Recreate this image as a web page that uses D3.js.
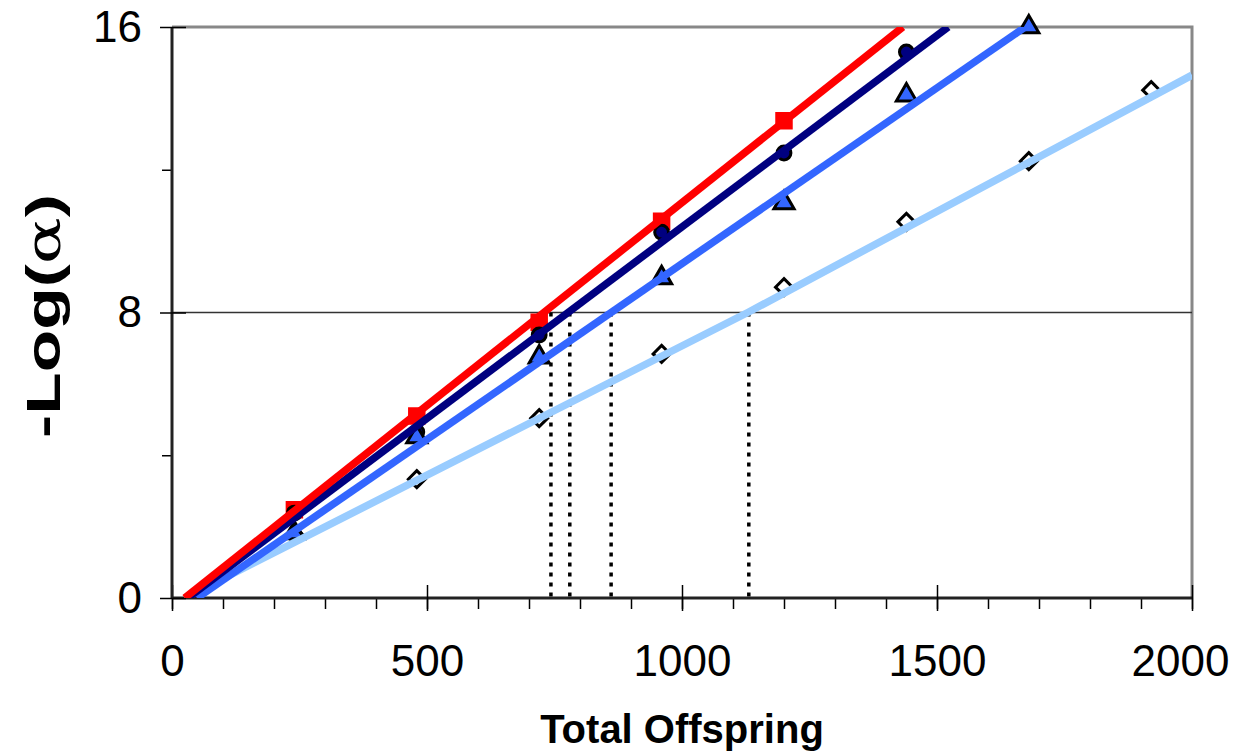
<!DOCTYPE html>
<html>
<head>
<meta charset="utf-8">
<script src="https://cdn.jsdelivr.net/npm/d3@7"></script>
<style>
  body { margin: 0; background: #fff; }
  text { font-family: "Liberation Sans", Arial, sans-serif; }
</style>
</head>
<body>
<svg id="chart"></svg>
<script>
var width = 1243,
    height = 752,
    margin = {top: 27, right: 51, bottom: 154, left: 172};

// observed points (Total Offspring, -Log(alpha))
var offspring = [240, 480, 720, 960, 1200, 1440, 1680, 1920];
var redY = [2.47, 5.10, 7.73, 10.56, 13.37];
var navyY = [2.38, 4.65, 7.37, 10.25, 12.47, 15.30];
var blueY = [1.82, 4.51, 6.75, 8.97, 11.07, 14.09, 16.0];
var lightY = [1.77, 3.33, 5.04, 6.84, 8.71, 10.54, 12.24, 14.23];

// fitted lines, read at their ends
var redFit = [[25, 0], [1433, 16]];
var navyFit = [[31, 0], [1522, 16]];
var blueFit = [[49, 0], [1673, 16]];
var lightFit = [[25, 0], [1129, 8], [2000, 14.65]];

// offspring needed to reach -Log(alpha) = 8
var thresholds = [743, 780, 861, 1131];

var xTicks = [0, 500, 1000, 1500, 2000];
var yTicks = [0, 8, 16];

var series = [
  {name: "red", ys: redY, fit: redFit, color: "#ff0000", shape: "square"},
  {name: "navy", ys: navyY, fit: navyFit, color: "#000080", shape: "circle"},
  {name: "blue", ys: blueY, fit: blueFit, color: "#3366ff", shape: "triangle"},
  {name: "light", ys: lightY, fit: lightFit, color: "#99ccff", shape: "diamond"}
];

var svg = d3.select("#chart").attr("width", width).attr("height", height);
var w = width - margin.left - margin.right,
    h = height - margin.top - margin.bottom;

var x = d3.scaleLinear().domain([0, 2000]).range([0, w]);
var y = d3.scaleLinear().domain([0, 16]).range([h, 0]);

var g = svg.append("g").attr("transform", "translate(" + margin.left + "," + margin.top + ")");

// frame (top + right, grey)
g.append("path")
  .attr("d", "M0,0H" + w + "V" + h)
  .attr("fill", "none")
  .attr("stroke", "#888")
  .attr("stroke-width", 3);

// gridline at 8
g.append("line")
  .attr("x1", 0).attr("x2", w)
  .attr("y1", y(8)).attr("y2", y(8))
  .attr("stroke", "#333")
  .attr("stroke-width", 1.3);

// dotted drop lines
g.selectAll(".drop")
  .data(thresholds)
  .enter().append("line")
  .attr("class", "drop")
  .attr("x1", d => x(d)).attr("x2", d => x(d))
  .attr("y1", y(8)).attr("y2", y(0))
  .attr("stroke", "#000")
  .attr("stroke-width", 3.5)
  .attr("stroke-dasharray", "4,6");

// minor x ticks
var xMinor = d3.axisBottom(x).tickValues(d3.range(0, 2001, 100)).tickSize(11).tickFormat("");
var xMinorG = g.append("g").attr("transform", "translate(0," + h + ")").call(xMinor);
xMinorG.select(".domain").remove();
xMinorG.selectAll("line").attr("stroke", "#000").attr("stroke-width", 1.5);

// major x ticks (cross the axis)
var xAxis = d3.axisBottom(x).tickValues(xTicks).tickSize(13).tickPadding(34).tickFormat(d3.format("d"));
var xG = g.append("g").attr("transform", "translate(0," + h + ")").call(xAxis);
xG.select(".domain").attr("d", "M0,0H" + w).attr("stroke", "#222").attr("stroke-width", 3);
xG.selectAll(".tick line").attr("y1", -13).attr("stroke", "#000").attr("stroke-width", 1.5);
xG.selectAll(".tick text").attr("font-size", 44).attr("fill", "#000")
  .attr("dx", d => d === 2000 ? -12 : 0);

// minor y ticks
var yMinor = d3.axisLeft(y).tickValues([4, 12]).tickSize(10).tickFormat("");
var yMinorG = g.append("g").call(yMinor);
yMinorG.select(".domain").remove();
yMinorG.selectAll("line").attr("stroke", "#000").attr("stroke-width", 1.5);

var yAxis = d3.axisLeft(y).tickValues(yTicks).tickSize(12).tickPadding(18).tickFormat(d3.format("d"));
var yG = g.append("g").call(yAxis);
yG.select(".domain").attr("d", "M0,0V" + h).attr("stroke", "#222").attr("stroke-width", 3);
yG.selectAll(".tick line").attr("x1", 14).attr("stroke", "#000").attr("stroke-width", 1.5);
yG.selectAll(".tick text").attr("font-size", 44).attr("fill", "#000");

// markers first, fitted lines over them
function markerPath(shape) {
  if (shape === "square") return d3.symbol(d3.symbolSquare, 210)();
  if (shape === "circle") return d3.symbol(d3.symbolCircle, 150)();
  if (shape === "triangle") return d3.symbol(d3.symbolTriangle, 175)();
  return "M0,-8.5L8.5,0L0,8.5L-8.5,0Z";
}

series.forEach(function(s) {
  var pts = s.ys.map(function(v, i) { return [offspring[i], v]; });
  g.append("g").attr("class", "pts-" + s.name)
    .selectAll("path")
    .data(pts)
    .enter().append("path")
    .attr("transform", d => "translate(" + x(d[0]) + "," + y(d[1]) + ")")
    .attr("d", markerPath(s.shape))
    .attr("fill", s.shape === "diamond" ? "none" : s.color)
    .attr("stroke", s.shape === "square" ? s.color : "#000")
    .attr("stroke-width", 3);
});

var line = d3.line().x(d => x(d[0])).y(d => y(d[1]));
svg.append("clipPath").attr("id", "plotclip")
  .append("rect").attr("x", -2).attr("y", 0).attr("width", w + 2).attr("height", h);

// draw light first so darker lines sit above
series.slice().reverse().forEach(function(s) {
  g.append("path")
    .datum(s.fit)
    .attr("d", line)
    .attr("clip-path", "url(#plotclip)")
    .attr("fill", "none")
    .attr("stroke", s.color)
    .attr("stroke-width", 7.5);
});

// axis titles
svg.append("text")
  .attr("x", margin.left + w / 2)
  .attr("y", 743)
  .attr("text-anchor", "middle")
  .attr("font-size", 40)
  .attr("font-weight", "bold")
  .text("Total Offspring");

var yt = svg.append("text")
  .attr("transform", "translate(60,316) rotate(-90) scale(1.45,1)")
  .attr("text-anchor", "middle")
  .attr("font-size", 48)
  .attr("font-weight", "bold");
yt.append("tspan").text("-Log(");
yt.append("tspan").attr("font-weight", "normal").attr("font-family", "DejaVu Serif, serif").text("α");
yt.append("tspan").text(")");
</script>
</body>
</html>
